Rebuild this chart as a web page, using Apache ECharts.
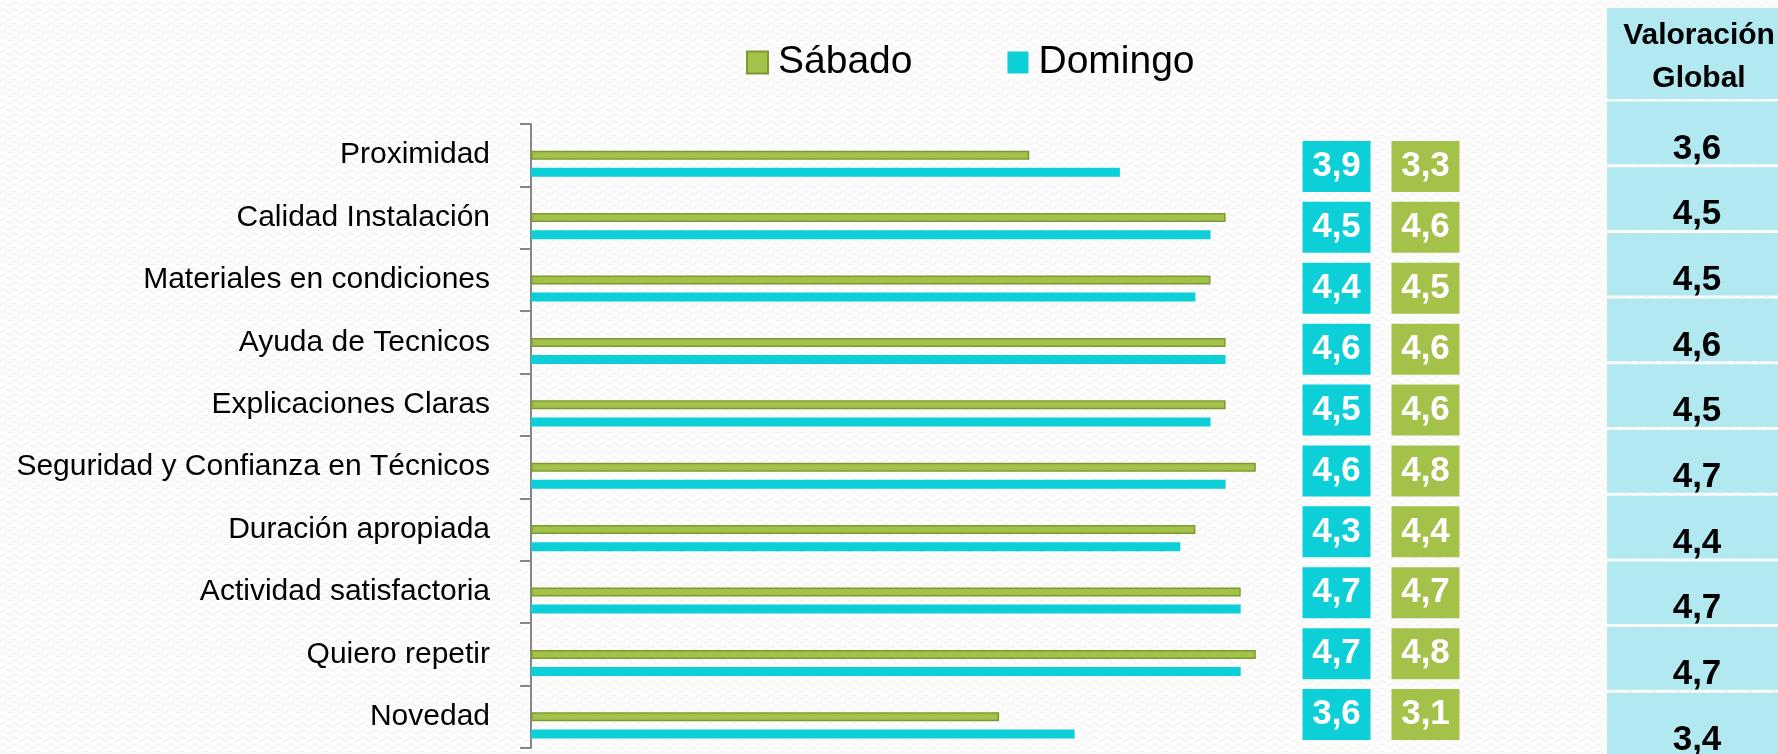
<!DOCTYPE html>
<html>
<head>
<meta charset="utf-8">
<title>Valoración</title>
<script src="https://cdn.jsdelivr.net/npm/echarts@6/dist/echarts.min.js"></script>
<style>
  html, body { margin: 0; padding: 0; background: #fcfcfc; }
  #main { width: 1778px; height: 754px; }
</style>
</head>
<body>
<div id="main"></div>
<script>
// datos
const categorias = [
  "Proximidad",
  "Calidad Instalación",
  "Materiales en condiciones",
  "Ayuda de Tecnicos",
  "Explicaciones Claras",
  "Seguridad y Confianza en Técnicos",
  "Duración apropiada",
  "Actividad satisfactoria",
  "Quiero repetir",
  "Novedad"
];
const sabado = [3.3, 4.6, 4.5, 4.6, 4.6, 4.8, 4.4, 4.7, 4.8, 3.1];
const domingo = [3.9, 4.5, 4.4, 4.6, 4.5, 4.6, 4.3, 4.7, 4.7, 3.6];
const valoracionGlobal = [3.6, 4.5, 4.5, 4.6, 4.5, 4.7, 4.4, 4.7, 4.7, 3.4];
const columnasEtiqueta = ["Domingo", "Sábado"];

const VERDE = "#a4c14a";
const CIAN = "#0dcfd8";
const FONT = "'Liberation Sans', Arial, sans-serif";

function coma(v) {
  return v.toFixed(1).replace(".", ",");
}

// fondo con textura ondulada suave
function patron() {
  const c = document.createElement("canvas");
  c.width = 12;
  c.height = 7;
  const ctx = c.getContext("2d");
  ctx.fillStyle = "#fdfdfd";
  ctx.fillRect(0, 0, 12, 7);
  ctx.strokeStyle = "#efefef";
  ctx.lineWidth = 1;
  ctx.beginPath();
  ctx.moveTo(0, 4);
  ctx.quadraticCurveTo(3, 0, 6, 4);
  ctx.quadraticCurveTo(9, 8, 12, 4);
  ctx.stroke();
  return c;
}

let myChart = echarts.init(document.getElementById("main"));

myChart.setOption({
  backgroundColor: { image: patron(), repeat: "repeat" },
  animation: false,
  legend: {
    data: ["Sábado", "Domingo"],
    icon: "rect",
    left: 741,
    top: 38,
    itemWidth: 21,
    itemHeight: 22,
    itemGap: 95,
    textStyle: {
      fontSize: 39,
      color: "#000",
      fontFamily: FONT,
      padding: [0, 0, 0, 5],
    },
  },
  grid: [
    // barras
    { left: 531, width: 755, top: 124, height: 624, outerBoundsMode: "none" },
    // cajas con valores
    { left: 1292, width: 178, top: 136, height: 609, outerBoundsMode: "none" },
    // tabla valoracion global
    { left: 1607, right: 0, top: 100, height: 657, outerBoundsMode: "none" },
  ],
  xAxis: [
    { gridIndex: 0, type: "value", min: 0, max: 5, show: false },
    { gridIndex: 1, type: "category", data: columnasEtiqueta, show: false },
    { gridIndex: 2, type: "value", min: 0, max: 1, show: false },
  ],
  yAxis: [
    {
      gridIndex: 0,
      type: "category",
      data: categorias,
      inverse: true,
      axisLine: { show: true, lineStyle: { color: "#868686", width: 2 } },
      axisTick: { show: true, length: 11, lineStyle: { color: "#868686", width: 2 } },
      axisLabel: {
        fontSize: 30,
        color: "#000",
        margin: 41,
        fontFamily: FONT,
        padding: [14, 0, 0, 0],
      },
    },
    { gridIndex: 1, type: "category", data: categorias, inverse: true, show: false },
    { gridIndex: 2, type: "category", data: categorias, inverse: true, show: false },
  ],
  series: [
    {
      name: "Global",
      type: "bar",
      data: valoracionGlobal,
      barWidth: 9,
      barGap: "90%",
      silent: true,
      itemStyle: { color: "rgba(0,0,0,0)" },
    },
    {
      name: "Sábado",
      type: "bar",
      data: sabado,
      barWidth: 9,
      barGap: "90%",
      itemStyle: { color: VERDE, borderColor: "#7c9a30", borderWidth: 1.5 },
    },
    {
      name: "Domingo",
      type: "bar",
      data: domingo,
      barWidth: 9,
      barGap: "90%",
      itemStyle: { color: CIAN },
    },
    {
      name: "etiqueta domingo",
      type: "scatter",
      xAxisIndex: 1,
      yAxisIndex: 1,
      symbol: "rect",
      symbolSize: [68, 51],
      itemStyle: { color: CIAN, opacity: 1 },
      data: categorias.map((c, i) => ["Domingo", c, domingo[i]]),
      label: {
        show: true,
        position: "inside",
        color: "#fff",
        fontSize: 35,
        fontWeight: "bold",
        fontFamily: FONT,
        formatter: (p) => coma(p.value[2]),
      },
    },
    {
      name: "etiqueta sabado",
      type: "scatter",
      xAxisIndex: 1,
      yAxisIndex: 1,
      symbol: "rect",
      symbolSize: [68, 51],
      itemStyle: { color: VERDE, opacity: 1 },
      data: categorias.map((c, i) => ["Sábado", c, sabado[i]]),
      label: {
        show: true,
        position: "inside",
        color: "#fff",
        fontSize: 35,
        fontWeight: "bold",
        fontFamily: FONT,
        formatter: (p) => coma(p.value[2]),
      },
    },
    {
      name: "tabla global",
      type: "custom",
      xAxisIndex: 2,
      yAxisIndex: 2,
      data: categorias.map((c, i) => [c, valoracionGlobal[i]]),
      encode: { y: 0 },
      renderItem: function (params, api) {
        const pt = api.coord([0, api.value(0)]);
        const band = api.size([0, 1])[1];
        const cs = params.coordSys;
        return {
          type: "group",
          children: [
            {
              type: "rect",
              shape: { x: cs.x, y: pt[1] - band / 2 + 1.5, width: cs.width, height: band - 3 },
              style: { fill: "#b2e9f1" },
            },
            {
              type: "text",
              style: {
                text: coma(api.value(1)),
                x: cs.x + 90,
                y: pt[1] + 16,
                align: "center",
                verticalAlign: "middle",
                fontSize: 35,
                fontWeight: "bold",
                fontFamily: FONT,
                fill: "#000",
              },
            },
          ],
        };
      },
    },
  ],
  graphic: [
    {
      type: "rect",
      left: 1607,
      top: 8,
      shape: { width: 171, height: 91 },
      style: { fill: "#b2e9f1" },
    },
    {
      type: "text",
      x: 1699,
      y: 57,
      style: {
        text: "Valoración\nGlobal",
        align: "center",
        verticalAlign: "middle",
        fontSize: 30,
        lineHeight: 43,
        fontWeight: "bold",
        fontFamily: FONT,
        fill: "#000",
      },
    },
  ],
});
</script>
</body>
</html>
